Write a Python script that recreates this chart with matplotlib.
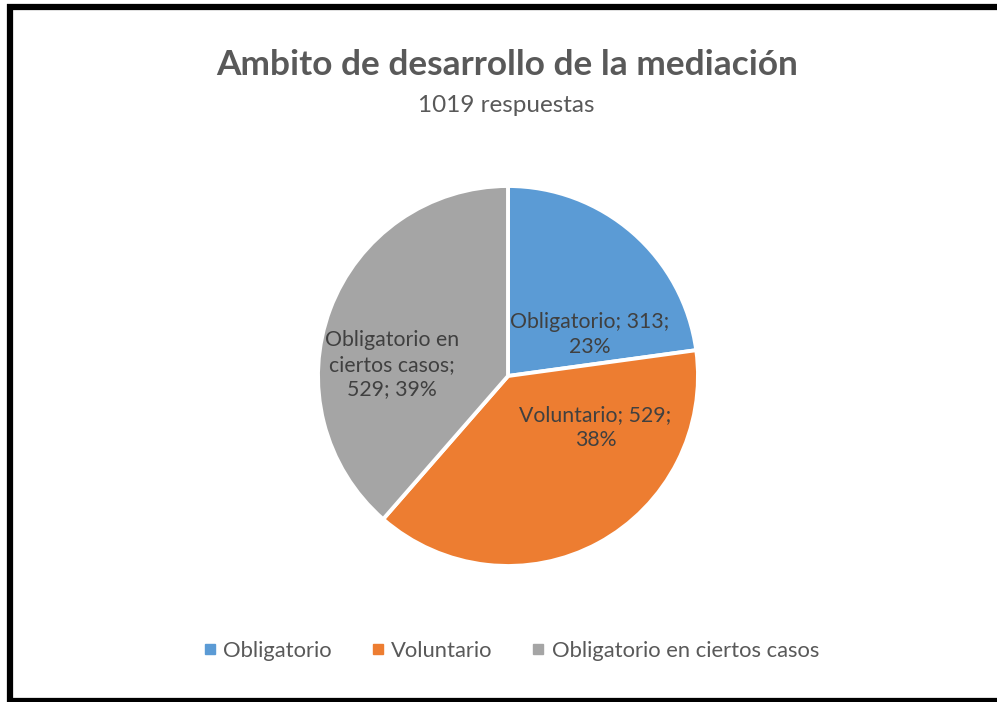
import matplotlib
matplotlib.use("Agg")
import matplotlib.pyplot as plt
from matplotlib.lines import Line2D

# chart data
categories = ["Obligatorio", "Voluntario", "Obligatorio en ciertos casos"]
values = [313, 529, 529]
label_texts = ["Obligatorio; 313;\n23%", "Voluntario; 529;\n38%", "Obligatorio en\nciertos casos;\n529; 39%"]
colors = ["#5B9BD5", "#ED7D31", "#A5A5A5"]

title = "Ambito de desarrollo de la mediación"
subtitle = "1019 respuestas"

plt.rcParams["font.family"] = ["Lato", "DejaVu Sans"]

W, H = 997, 702
fig = plt.figure(figsize=(W / 100, H / 100), dpi=100)
fig.patch.set_facecolor("white")

# pie axes, centre (508, 376) px, radius 190 px
cx, cy, r = 508, 376, 190
ax = fig.add_axes([(cx - r) / W, 1 - (cy + r) / H, 2 * r / W, 2 * r / H])
wedges, _ = ax.pie(values, colors=colors, startangle=90, counterclock=False,
                   radius=1.0, wedgeprops=dict(edgecolor="white", linewidth=2.8))
ax.set_xlim(-1, 1)
ax.set_ylim(-1, 1)
ax.set_aspect("equal")
ax.axis("off")

# data labels (positions in radius units)
label_pos = [(0.43, 0.22), (0.46, -0.27), (-0.61, 0.06)]
for (lx, ly), txt in zip(label_pos, label_texts):
	ax.text(lx, ly, txt, ha="center", va="center", fontsize=15.3,
	        color="#404040", linespacing=1.3)

fig.text(0.509, 1 - 65 / H, title, ha="center", va="center",
         fontsize=25.4, fontweight="bold", color="#595959")
fig.text(0.508, 1 - 105 / H, subtitle, ha="center", va="center",
         fontsize=17.5, color="#595959")

handles = [Line2D([], [], marker="s", linestyle="none", markersize=7,
                  markerfacecolor=c, markeredgecolor=c) for c in colors]
fig.legend(handles, categories, loc="center", bbox_to_anchor=(0.512, 1 - 651 / H),
           ncol=3, frameon=False, fontsize=15.8, labelcolor="#595959",
           handletextpad=0.25, columnspacing=1.75, handlelength=0.7)

# border: left, top, bottom
border = dict(color="black", linewidth=4.5, solid_capstyle="butt")
fig.add_artist(Line2D([10 / W, 10 / W], [0, 1 - 4 / H], transform=fig.transFigure, **border))
fig.add_artist(Line2D([7 / W, 1], [1 - 7 / H, 1 - 7 / H], transform=fig.transFigure, **border))
fig.add_artist(Line2D([7 / W, 1], [1 / H, 1 / H], transform=fig.transFigure, **border))

fig.savefig("out.png", dpi=100)
